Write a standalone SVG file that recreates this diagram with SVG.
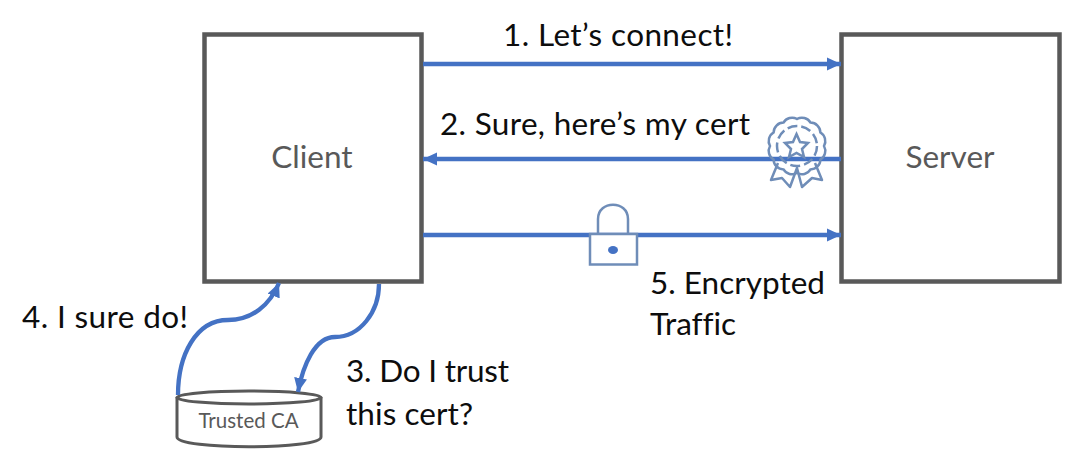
<svg xmlns="http://www.w3.org/2000/svg" width="1086" height="454" viewBox="0 0 1086 454">
<defs>
<marker id="arr" markerUnits="userSpaceOnUse" markerWidth="15" markerHeight="14" refX="14" refY="7" orient="auto"><path d="M0,0.500 L14,7 L0,13.500 Z" fill="#4472c4"/></marker>
</defs>
<style>
.box{fill:#fff;stroke:#595959;stroke-width:4.500}
.lbl{font-family:Lato,"Open Sans","Liberation Sans",sans-serif;font-size:31.500px;fill:#0d0d0d;font-variant-ligatures:none}
.nm{font-family:Lato,"Open Sans","Liberation Sans",sans-serif;font-size:31.500px;fill:#595959;text-anchor:middle}
.c{fill:none;stroke:#4472c4;stroke-width:4.300}
.ic{fill:none;stroke:#6f8db8;stroke-width:2.500}
</style>
<rect width="1086" height="454" fill="#fff"/>
<g id="client"><rect class="box" x="204.500" y="34.500" width="217" height="247"/><text class="nm" x="312" y="168">Client</text></g>
<g id="server"><rect class="box" x="841.500" y="34.500" width="218" height="247"/><text class="nm" x="950" y="168">Server</text></g>
<g id="trusted-ca">
<path d="M177,397 V437 C177,450 321,450 321,437 V397" fill="#fff" stroke="#595959" stroke-width="3"/>
<ellipse cx="249" cy="397.500" rx="72" ry="6.500" fill="#fff" stroke="#595959" stroke-width="3"/>
<text x="248.500" y="428" font-family="Lato,'Open Sans','Liberation Sans',sans-serif" font-size="20.500" fill="#595959" text-anchor="middle">Trusted CA</text>
</g>
<g id="connectors">
<path class="c" marker-end="url(#arr)" d="M423,64 H841"/>
<path class="c" marker-end="url(#arr)" d="M841,159 H423"/>
<path class="c" marker-end="url(#arr)" d="M423,235 H841"/>
<path class="c" marker-end="url(#arr)" d="M178,395 C178,355 196,320 228,320 C252,320 270,305 279,283"/>
<path class="c" marker-end="url(#arr)" d="M379,284 C379,312 360,337 335,337 C315,337 303,365 298,392"/>
</g>
<g id="certificate" class="ic">
<path d="M778,163 L771,180 L782,178 L790,187 L797,168 L802,187 L812,178 L822,180 L815,163" stroke-linejoin="round"/>
<path d="M824,146 A10,10 0 0 1 820.400,159.500 A10,10 0 0 1 810.500,169.400 A10,10 0 0 1 797,173 A10,10 0 0 1 783.500,169.400 A10,10 0 0 1 773.600,159.500 A10,10 0 0 1 770,146 A10,10 0 0 1 773.600,132.500 A10,10 0 0 1 783.500,122.600 A10,10 0 0 1 797,119 A10,10 0 0 1 810.500,122.600 A10,10 0 0 1 820.400,132.500 A10,10 0 0 1 824,146 Z"/>
<circle cx="797" cy="146" r="20" stroke-dasharray="10 4"/>
<path d="M796.500,134 L800,142 L808,143 L802,149 L804,157 L796.500,153 L789,157 L791,149 L785,143 L793,142 Z"/>
</g>
<g id="lock" class="ic">
<path d="M598,234 V219 C598,200 628,200 628,219 V234"/>
<rect x="590" y="234" width="47" height="30.500" fill="#fff"/>
<ellipse cx="613" cy="250" rx="5" ry="4" fill="#4472c4" stroke="none"/>
</g>
<g id="labels">
<text class="lbl" x="503" y="46" textLength="230">1. Let’s connect!</text>
<text class="lbl" x="440" y="135" textLength="310">2. Sure, here’s my cert</text>
<text class="lbl" x="650" y="294" textLength="175">5. Encrypted</text>
<text class="lbl" x="650" y="335" textLength="86">Traffic</text>
<text class="lbl" x="22" y="328" textLength="166">4. I sure do!</text>
<text class="lbl" x="346" y="382" textLength="163">3. Do I trust</text>
<text class="lbl" x="346" y="425" textLength="127">this cert?</text>
</g>
</svg>
